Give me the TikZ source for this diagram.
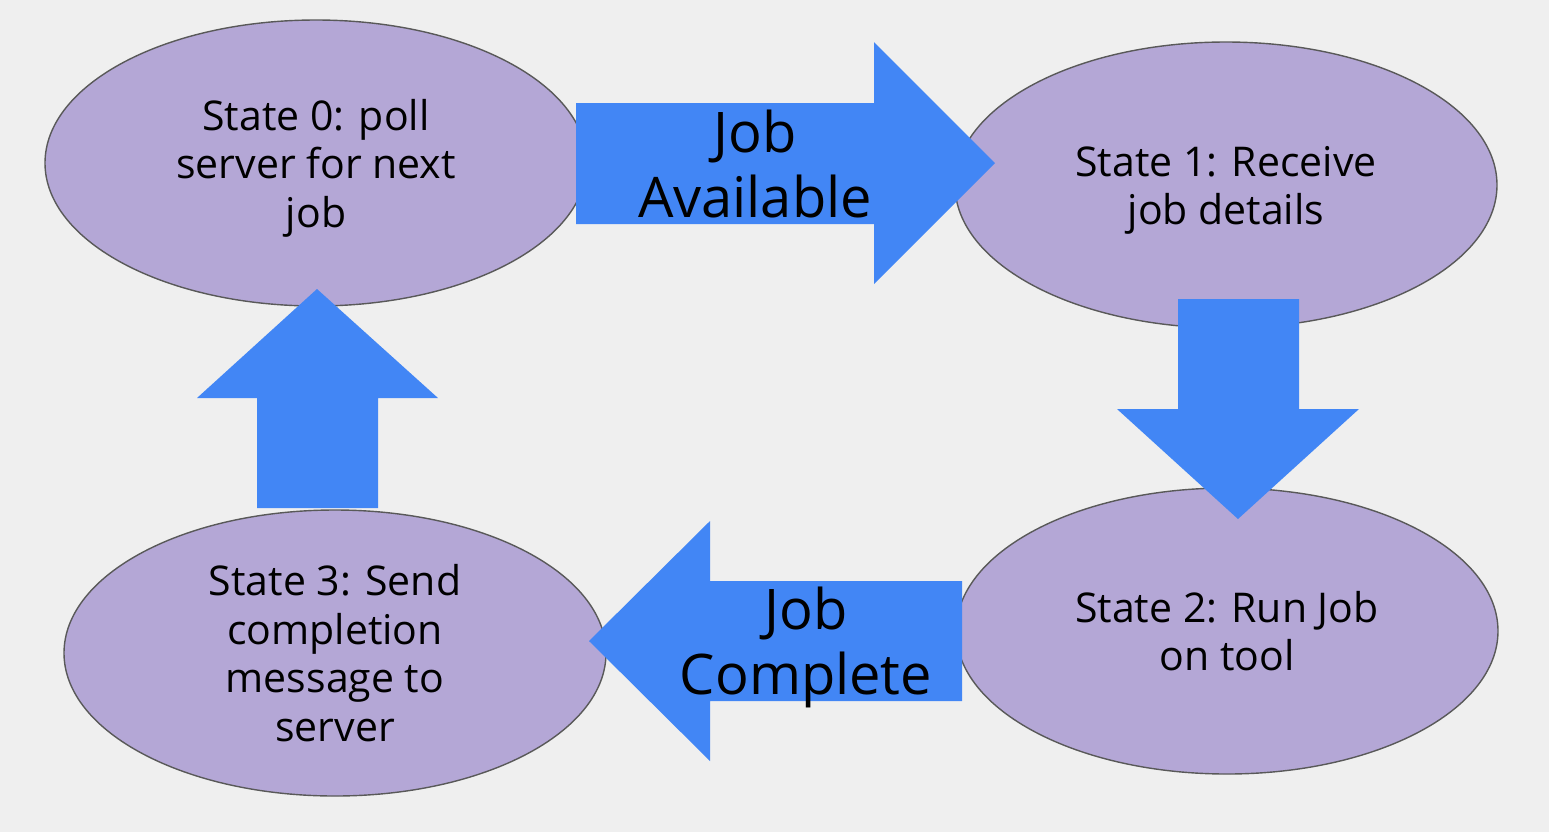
\documentclass[tikz,border=0pt]{standalone}
\usepackage{fontspec}
\setmainfont{Open Sans}
\usetikzlibrary{shapes.geometric}
\definecolor{bgGray}{HTML}{EFEFEF}
\definecolor{stateLav}{HTML}{B4A7D6}
\definecolor{edgeGray}{HTML}{595959}
\definecolor{arrowBlue}{HTML}{4286F5}
\tikzset{
  statenode/.style={ellipse,draw=edgeGray,line width=0.7pt,fill=stateLav,
    minimum width=271pt,minimum height=143pt,inner sep=0pt},
  statetext/.style={align=center,inner sep=0pt,font=\fontsize{20.5}{24.3}\selectfont},
  flowarrow/.style={fill=arrowBlue},
  flowlabel/.style={align=center,inner sep=0pt,font=\fontsize{28}{32.5}\selectfont},
}

\begin{document}
\begin{tikzpicture}[x=0.5pt,y=-0.5pt]
      \fill[bgGray] (0,0) rectangle (1549,832);
      \useasboundingbox (0,0) rectangle (1549,832);
      % the four states
      \node[statenode] (s0) at (316,163) {};
      \node[statenode] (s1) at (1226,185) {};
      \node[statenode] (s2) at (1227,631) {};
      \node[statenode] (s3) at (335,653) {};
      \node[statetext] (t0) at ([yshift=-2.6pt]s0.center) {State 0: poll\\server for next\\job};
      \node[statetext] (t1) at ([yshift=-2.6pt]s1.center) {State 1: Receive\\job details};
      \node[statetext] (t2) at (s2.center) {State 2: Run Job\\on tool};
      \node[statetext] (t3) at (s3.center) {State 3: Send\\completion\\message to\\server};
      % block arrows between the states
      \fill[flowarrow] (576,103)--(874,103)--(874,42)--(995,163)--(874,284)--(874,224)--(576,224)--cycle;
      \fill[flowarrow] (1178,299)--(1299,299)--(1299,409)--(1359,409)--(1238,519)--(1117,409)--(1178,409)--cycle;
      \fill[flowarrow] (962,581)--(710,581)--(710,521)--(589,641)--(710,761)--(710,701)--(962,701)--cycle;
      \fill[flowarrow] (257,508)--(257,398)--(197,398)--(317,289)--(438,398)--(378,398)--(378,508)--cycle;
      \node[flowlabel] (avail) at (755,164) {Job\\Available};
      \node[flowlabel] (done) at (806,647) {Job\\Complete};
\end{tikzpicture}
\end{document}
